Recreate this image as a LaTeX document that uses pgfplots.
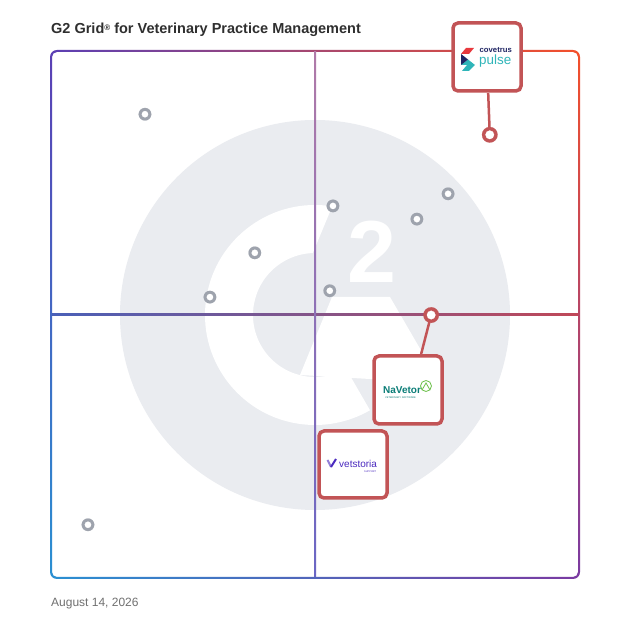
\documentclass[border=0pt]{standalone}
\usepackage{fontspec}
\setmainfont{Liberation Sans}
\usepackage{pgfplots}
\usepackage{pgfplotstable}
\pgfplotsset{compat=1.18}
\usetikzlibrary{shadings}
\definecolor{ggray}{HTML}{EAECF0}
\definecolor{ptgray}{HTML}{9EA3AD}
\definecolor{bred}{HTML}{C25456}
\definecolor{cUL}{HTML}{5B3FB4}
\definecolor{cUR}{HTML}{F4502A}
\definecolor{cLL}{HTML}{2A90D2}
\definecolor{cLR}{HTML}{7A3AA2}
\definecolor{hl}{HTML}{4A60B8}
\definecolor{hr}{HTML}{C04858}
\definecolor{vt}{HTML}{B07AA8}
\definecolor{vb}{HTML}{6A66C4}
\definecolor{titlec}{HTML}{2F2F2F}
\definecolor{datec}{HTML}{707070}
\definecolor{cnavy}{HTML}{1E2463}
\definecolor{cteal}{HTML}{2FB5B9}
\definecolor{cred}{HTML}{E8383D}
\definecolor{nteal}{HTML}{0B7D77}
\definecolor{ngreen}{HTML}{6CC04A}
\definecolor{vpurple}{HTML}{4B2BBF}
\pgfplotstableread{
x y
17.8 88.0
53.4 70.6
75.2 72.9
69.3 68.1
38.6 61.7
30.1 53.3
52.8 54.5
7.0 10.1
}\graypts
\pgfplotstableread{
x y
83.1 84.1
72.0 49.9
}\redpts
\begin{document}
\begin{tikzpicture}[x=1pt,y=1pt]
\path[use as bounding box, fill=white] (0,0) rectangle (628,628);
% background G2 mark
\fill[ggray] (315,313) circle[radius=195];
\fill[white] ([shift={(81:110)}]315,313) arc[start angle=81,end angle=300,radius=110]
  -- ([shift={(300:62)}]315,313) arc[start angle=300,end angle=92,radius=62] -- cycle;
\fill[white] (332,331) -- (390,331) -- (440,245) -- (300,253) -- cycle;
\node[text=white, inner sep=0, font=\fontsize{88}{88}\selectfont\bfseries] at (372,376) {2};
% border
\shade[even odd rule, upper left=cUL, upper right=cUR, lower left=cLL, lower right=cLR]
  {[rounded corners=7pt] (50,49) rectangle (580,578)}
  {[rounded corners=5pt] (52,51) rectangle (578,576)};
% midlines
\shade[left color=hl, right color=hr] (52,312) rectangle (578,314);
\shade[top color=vt, bottom color=vb] (314,51) rectangle (316,576);
% title and date
\node[anchor=base west, inner sep=0, font=\fontsize{14.5}{14.5}\selectfont\bfseries, text=titlec] at (51,594) {G2 Grid\raisebox{0.45ex}{\fontsize{8}{8}\selectfont ®} for Veterinary Practice Management};
\node[anchor=base west, inner sep=0, font=\fontsize{12}{12}\selectfont, text=datec] at (51,21) {August 14, 2026};
\begin{axis}[at={(51pt,50pt)}, anchor=south west, scale only axis, width=528pt, height=527pt,
  xmin=0, xmax=100, ymin=0, ymax=100, hide axis, clip=false]
\draw[bred, line width=2.5pt] (axis cs:83.1,84.1) -- (axis cs:82.8,92.0);
\draw[bred, line width=2.5pt] (axis cs:72.0,49.9) -- (axis cs:70.1,42.5);
\addplot[only marks, color=ptgray, mark=*, mark size=6.3pt, mark options={solid, draw=ptgray, fill=ptgray, line width=0.1pt}] table {\graypts};
\addplot[only marks, color=white, mark=*, mark size=3.2pt, mark options={solid, draw=white, fill=white, line width=0.1pt}] table {\graypts};
\addplot[only marks, color=bred, mark=*, mark size=7.8pt, mark options={solid, draw=bred, fill=bred, line width=0.1pt}] table {\redpts};
\addplot[only marks, color=white, mark=*, mark size=4.3pt, mark options={solid, draw=white, fill=white, line width=0.1pt}] table {\redpts};
\end{axis}
% vendor boxes
\draw[bred, line width=3.5pt, fill=white, rounded corners=5pt] (453,537) rectangle (521,605);
\draw[bred, line width=3.5pt, fill=white, rounded corners=5pt] (374,204) rectangle (442,272);
\draw[bred, line width=3.5pt, fill=white, rounded corners=5pt] (319,130) rectangle (387,197);
% covetrus pulse logo
\fill[cred] (461,574) -- (466,580) -- (474,580) -- (469,574) -- cycle;
\fill[cteal] (461,563) -- (468,568.5) -- (475,563) -- (469,557) -- (462,557) -- (467,563) -- cycle;
\fill[cnavy] (461,574) -- (468,568.5) -- (461,563) -- cycle;
\node[anchor=base west, inner sep=0, font=\fontsize{7.7}{7.7}\selectfont\bfseries, text=cnavy] at (479.5,575.5) {covetrus};
\node[anchor=base west, inner sep=0, font=\fontsize{13.4}{13.4}\selectfont, text=cteal] at (479,563) {pulse};
% NaVetor logo
\node[anchor=base west, inner sep=0, font=\fontsize{10}{10}\selectfont\bfseries, text=nteal] at (383,234) {NaVetor};
\draw[ngreen, line width=0.8pt] (426,242) circle[radius=5.5];
\draw[ngreen, line width=0.8pt] (422,238) -- (426,245) -- (430,238);
\node[anchor=base west, inner sep=0, font=\fontsize{2.5}{2.5}\selectfont, text=nteal] at (385,229) {VETERINARY SOFTWARE};
% vetstoria logo
\draw[vpurple!60, line width=2pt] (327.5,168) -- (331,161);
\draw[vpurple, line width=2pt] (331,161) -- (336,169);
\node[anchor=base west, inner sep=0, font=\fontsize{10}{10}\selectfont, text=vpurple] at (339,160.5) {vetstoria};
\node[anchor=base west, inner sep=0, font=\fontsize{2.5}{2.5}\selectfont, text=vpurple] at (364,155.5) {SUPPORT};
\end{tikzpicture}
\end{document}
